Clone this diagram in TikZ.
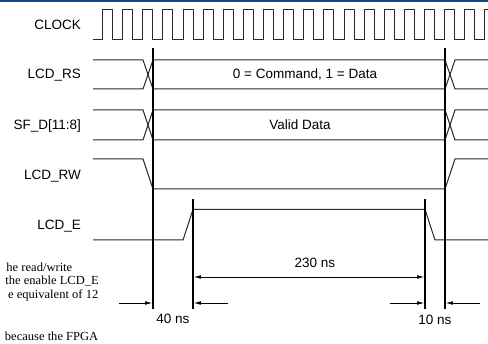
\documentclass[tikz,border=0pt]{standalone}
\usepackage{fontspec}
\setmainfont{Liberation Serif}
\setsansfont{Liberation Sans}
\newfontfamily\bookfont[FakeStretch=1.02]{Liberation Serif}
\usetikzlibrary{arrows.meta}
\definecolor{topblue}{RGB}{24,72,128}
\definecolor{wire}{RGB}{40,40,40}

\begin{document}
\begin{tikzpicture}[x=1pt,y=-1pt,
  sig/.style={line width=1pt, draw=wire, line join=round},
  tline/.style={line width=1.6pt, draw=black},
  dim/.style={line width=0.7pt, -{Latex[length=7pt,width=3.6pt]}, shorten >=0.8pt},
  signame/.style={font=\sffamily\fontsize{13.5}{16}\selectfont, anchor=east, inner sep=0pt},
  sigval/.style={font=\sffamily\fontsize{13.5}{16}\selectfont, inner sep=0pt},
  booktext/.style={font=\bookfont\fontsize{12.3}{14}\selectfont, anchor=east, inner sep=0pt}]
\useasboundingbox (0,0) rectangle (488,344);
\clip (0,0) rectangle (488,344);

\draw[topblue, line width=2pt] (0,1) -- (488,1);

% signal names
\node[signame] (clk) at (81,25)  {CLOCK};
\node[signame] (rs)  at (81,75.5) {LCD\_RS};
\node[signame] (sfd) at (81,126) {SF\_D[11:8]};
\node[signame] (rw)  at (81,176) {LCD\_RW};
\node[signame] (en)  at (81,226) {LCD\_E};

% waveforms
\draw[sig] (93,40) foreach \k in {0,...,19} {-- ({102.5+20.13*\k},40) -- ({102.5+20.13*\k},10)
  -- ({112.5+20.13*\k},10) -- ({112.5+20.13*\k},40)} -- (500,40);
\draw[sig] (93,60) -- (143,60) -- (153,89) -- (445,89) -- (455,60) -- (488,60);
\draw[sig] (93,89) -- (143,89) -- (153,60) -- (445,60) -- (455,89) -- (488,89);
\draw[sig] (93,110) -- (143,110) -- (153,140) -- (445,140) -- (455,110) -- (488,110);
\draw[sig] (93,140) -- (143,140) -- (153,110) -- (445,110) -- (455,140) -- (488,140);
\draw[sig] (93,159) -- (143,159) -- (153,189) -- (445,189) -- (455,159) -- (488,159);
\draw[sig] (93,240) -- (183,240) -- (193,209.5) -- (425,209.5) -- (435,240) -- (488,240);

\node[sigval] (rsval)  at (305,74.5) {0 = Command, 1 = Data};
\node[sigval] (sfdval) at (300,125)  {Valid Data};

% timing marks
\coordinate (ta-top) at (153,48);  \coordinate (ta-bot) at (153,309);
\coordinate (tb-top) at (193,199); \coordinate (tb-bot) at (193,309);
\coordinate (tc-top) at (425,199); \coordinate (tc-bot) at (425,309);
\coordinate (td-top) at (445,48);  \coordinate (td-bot) at (445,309);
\draw[tline] (ta-top) -- (ta-bot);
\draw[tline] (tb-top) -- (tb-bot);
\draw[tline] (tc-top) -- (tc-bot);
\draw[tline] (td-top) -- (td-bot);

\coordinate (s40l) at (119,303); \coordinate (ta-40) at (153,303);
\coordinate (s40r) at (228,303); \coordinate (tb-40) at (193,303);
\coordinate (tb-230) at (193,277); \coordinate (tc-230) at (425,277);
\coordinate (s10l) at (390,303); \coordinate (tc-10) at (425,303);
\coordinate (s10r) at (480,303); \coordinate (td-10) at (445,303);

\draw[dim] (s40l) -- (ta-40);
\draw[dim] (s40r) -- (tb-40);
\draw[dim, {Latex[length=7pt,width=3.6pt]}-{Latex[length=7pt,width=3.6pt]}, shorten <=0.8pt] (tb-230) -- (tc-230);
\draw[dim] (s10l) -- (tc-10);
\draw[dim] (s10r) -- (td-10);

\node[sigval] (l230) at (315,263) {230 ns};
\node[sigval] (l40)  at (173,319) {40 ns};
\node[sigval] (l10)  at (435,320) {10 ns};

% text of the page beside the figure
\node[booktext] (p1) at (72.5,267) {he read/write};
\node[booktext] (p2) at (99,281)   {the enable LCD\_E};
\node[booktext] (p3) at (98.5,295) {e equivalent of 12};
\node[booktext] (p4) at (98.5,336) {because the FPGA};
\end{tikzpicture}
\end{document}
